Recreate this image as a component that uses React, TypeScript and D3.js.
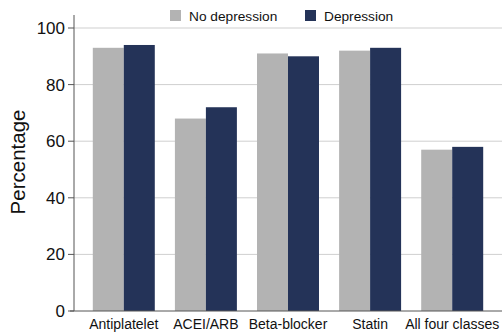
import React from "react";
import * as d3 from "d3";

const categories = ["Antiplatelet", "ACEI/ARB", "Beta-blocker", "Statin", "All four classes"];
const seriesNames = ["No depression", "Depression"];
const noDepression = [93, 68, 91, 92, 57];
const depression = [94, 72, 90, 93, 58];
const yTicks = [0, 20, 40, 60, 80, 100];
const colors = ["#b3b3b3", "#243358"];

const W = 502;
const H = 335;
const left = 74;
const right = 502;
const y0 = 311;
const y100 = 28;

export default function App() {
  const x = d3
    .scaleBand<string>()
    .domain(categories)
    .range([left, right])
    .paddingInner(0.245)
    .paddingOuter(0.229);
  const xs = d3.scaleBand<number>().domain([0, 1]).range([0, x.bandwidth()]);
  const y = d3.scaleLinear().domain([0, 100]).range([y0, y100]);
  const series = [noDepression, depression];
  const font = "Helvetica, Arial, 'Liberation Sans', sans-serif";

  return (
    <svg
      width={W}
      height={H}
      style={{ position: "absolute", left: 0, top: 0, background: "#fff" }}
      fontFamily={font}
    >
      {yTicks.map((t) =>
        t === 0 ? null : (
          <line key={"g" + t} x1={left} x2={right} y1={y(t)} y2={y(t)} stroke="#cfcfcf" strokeWidth={1} />
        )
      )}
      {categories.map((c, i) =>
        series.map((s, j) => (
          <rect
            key={c + j}
            x={(x(c) as number) + (xs(j) as number)}
            y={y(s[i])}
            width={xs.bandwidth()}
            height={y0 - y(s[i])}
            fill={colors[j]}
          />
        ))
      )}
      <line x1={left} x2={left} y1={15} y2={y0} stroke="#555" strokeWidth={1} />
      <line x1={left - 4} x2={right} y1={y0} y2={y0} stroke="#555" strokeWidth={1} />
      {yTicks.map((t) => (
        <g key={"t" + t}>
          <line x1={left - 6} x2={left} y1={y(t)} y2={y(t)} stroke="#555" strokeWidth={1} />
          <text x={left - 9} y={y(t)} dy="0.35em" textAnchor="end" fontSize={17} fill="#111">
            {t}
          </text>
        </g>
      ))}
      {categories.map((c) => (
        <text
          key={"c" + c}
          x={(x(c) as number) + x.bandwidth() / 2}
          y={329}
          textAnchor="middle"
          fontSize={14}
          fill="#111"
        >
          {c}
        </text>
      ))}
      <text
        transform={`translate(25,162) rotate(-90)`}
        textAnchor="middle"
        fontSize={20.5}
        fill="#111"
      >
        Percentage
      </text>
      {seriesNames.map((n, j) => {
        const lx = [170, 305][j];
        return (
          <g key={"l" + n}>
            <rect x={lx} y={10} width={11} height={11} fill={colors[j]} />
            <text x={lx + 19} y={20.5} fontSize={13.7} fill="#111">
              {n}
            </text>
          </g>
        );
      })}
    </svg>
  );
}
